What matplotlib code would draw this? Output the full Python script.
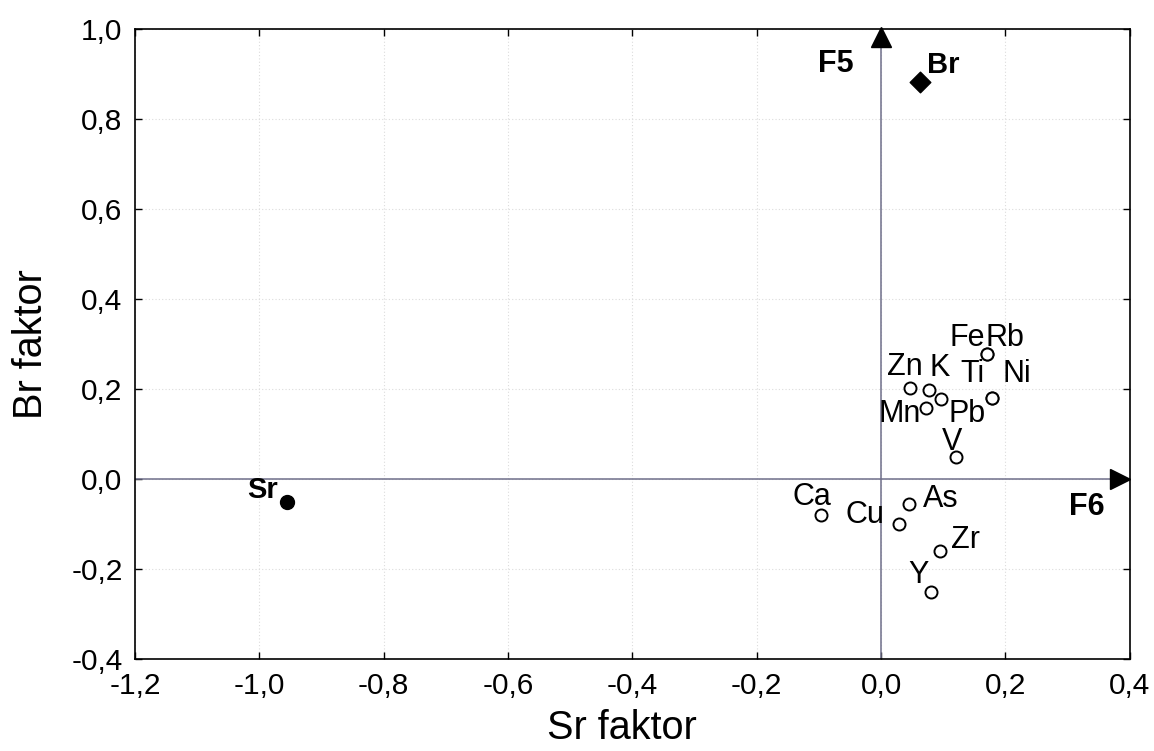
#!/usr/bin/env python3
"""Factor loadings scatter: Sr faktor vs Br faktor (F6 / F5)."""
import matplotlib
matplotlib.use("Agg")
import matplotlib.pyplot as plt
from matplotlib.ticker import FuncFormatter, MultipleLocator

plt.rcParams["font.family"] = ["Liberation Sans", "DejaVu Sans"]

# element loadings (x = Sr faktor, y = Br faktor)
ELEMENTS = ["Fe", "Rb", "Zn", "K", "Pb", "Mn", "Ti", "Ni", "V",
            "Ca", "As", "Cu", "Zr", "Y"]
SR_LOAD = [0.171, 0.171, 0.046, 0.077, 0.096, 0.073, 0.179, 0.179, 0.120,
           -0.096, 0.045, 0.029, 0.094, 0.080]
BR_LOAD = [0.279, 0.279, 0.203, 0.199, 0.177, 0.158, 0.181, 0.181, 0.050,
           -0.080, -0.056, -0.100, -0.160, -0.250]

# the two marker elements
BR_POINT = (0.062, 0.883)
SR_POINT = (-0.955, -0.050)

# label placement: offset in pixels from the point (baseline), ha
LABEL_POS = {
    "Fe": ((-2, 8), "right"),
    "Rb": ((-2, 8), "left"),
    "Zn": ((-5, 13), "center"),
    "K": ((11, 14), "center"),
    "Pb": ((8, -23), "left"),
    "Mn": ((-6, -14), "right"),
    "Ti": ((-20, 16), "center"),
    "Ni": ((24, 16), "center"),
    "V": ((-4, 7), "center"),
    "Ca": ((-9, 10), "center"),
    "As": ((14, -3), "left"),
    "Cu": ((-15, 1), "right"),
    "Zr": ((11, 3), "left"),
    "Y": ((-12, 9), "center"),
}


def comma(v, pos):
    return f"{v:.1f}".replace(".", ",")


fig = plt.figure(figsize=(11.54, 7.51), dpi=100)
ax = fig.add_axes([0.117, 0.1225, 0.862, 0.8385])

ax.set_xlim(-1.2, 0.4)
ax.set_ylim(-0.4, 1.0)
ax.xaxis.set_major_locator(MultipleLocator(0.2))
ax.yaxis.set_major_locator(MultipleLocator(0.2))
ax.xaxis.set_major_formatter(FuncFormatter(comma))
ax.yaxis.set_major_formatter(FuncFormatter(comma))
ax.tick_params(direction="in", top=True, right=True, length=5, width=1,
               labelsize=21.5)
ax.tick_params(axis="x", pad=9)
ax.tick_params(axis="y", pad=9)
ax.grid(True, color="#dcdcdc", linestyle=(0, (1, 2)), linewidth=0.8)
for sp in ax.spines.values():
    sp.set_linewidth(1.2)

# factor axes with arrows
ax.axhline(0, color="#6f6f8a", linewidth=1.1, zorder=2)
ax.axvline(0, color="#6f6f8a", linewidth=1.1, zorder=2)
ax.plot(0, 0.982, marker="^", ms=14, color="black", clip_on=False, zorder=4)
ax.plot(0.384, 0, marker=">", ms=14, color="black", clip_on=False, zorder=4)
ax.text(-0.044, 0.905, "F5", fontsize=22, fontweight="bold",
        ha="right", va="baseline")
ax.text(0.331, -0.080, "F6", fontsize=22, fontweight="bold",
        ha="center", va="baseline")

ax.scatter(SR_LOAD, BR_LOAD, s=75, facecolor="white", edgecolor="black",
           linewidth=1.4, zorder=5)
for name, x, y in zip(ELEMENTS, SR_LOAD, BR_LOAD):
    (dx, dy), ha = LABEL_POS[name]
    ax.annotate(name, (x, y), xytext=(dx, dy), textcoords="offset pixels",
                ha=ha, va="baseline", fontsize=22, zorder=6)

ax.scatter([BR_POINT[0]], [BR_POINT[1]], marker="D", s=110, color="black",
           zorder=5)
ax.annotate("Br", BR_POINT, xytext=(7, 9), textcoords="offset pixels",
            ha="left", va="baseline", fontsize=21, fontweight="bold")
ax.scatter([SR_POINT[0]], [SR_POINT[1]], marker="o", s=100, color="black",
           zorder=5)
ax.annotate("Sr", SR_POINT, xytext=(-9, 4), textcoords="offset pixels",
            ha="right", va="baseline", fontsize=21, fontweight="bold")

ax.set_xlabel("Sr faktor", fontsize=28.5)
ax.set_ylabel("Br faktor", fontsize=28.5, labelpad=15)
ax.xaxis.set_label_coords(0.489, -0.08)

fig.savefig("out.png", dpi=100)
